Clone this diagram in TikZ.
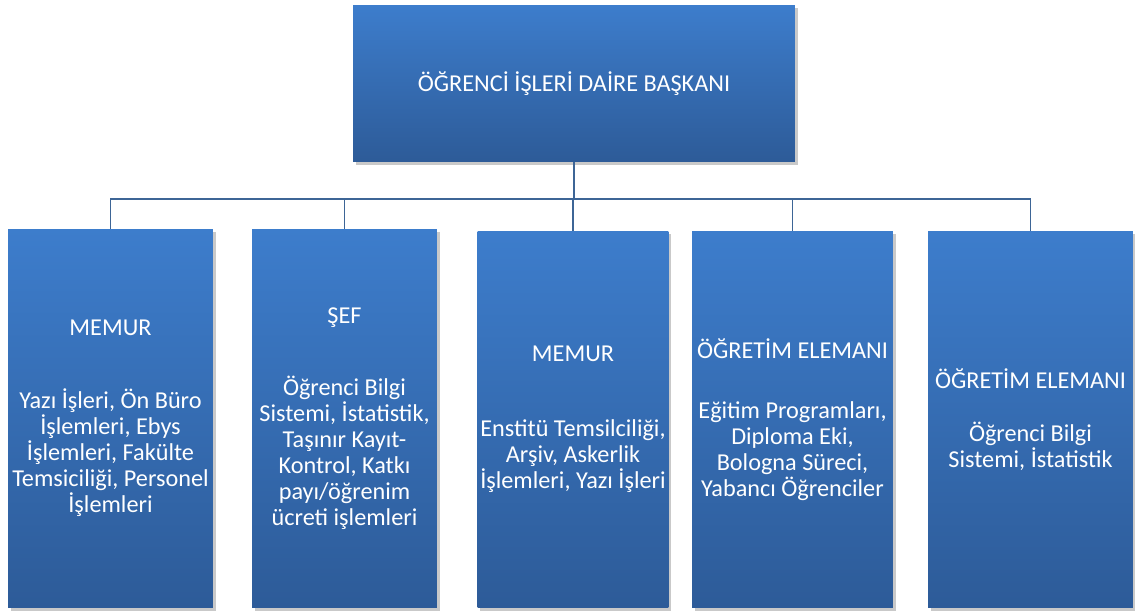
\documentclass[tikz,border=0pt]{standalone}
\usepackage{fontspec}
\setmainfont{Carlito}
\usetikzlibrary{shadows}

\definecolor{boxtop}{RGB}{61,125,204}
\definecolor{boxbottom}{RGB}{45,91,152}
\definecolor{linkblue}{RGB}{61,101,150}

\tikzset{
  office/.style={rectangle, inner sep=0pt, text=white, align=center,
    top color=boxtop, bottom color=boxbottom, draw=none,
    font=\fontsize{13.8}{14.8}\selectfont,
    drop shadow={shadow xshift=1.6pt, shadow yshift=-1.6pt, opacity=.3, fill=black!70}},
  link/.style={draw=linkblue, line width=0.85pt}
}

\begin{document}
\begin{tikzpicture}[x=0.02cm, y=-0.02cm]
    \useasboundingbox (0,0) rectangle (1135,610);
    %% Draw the head
    \node[office, minimum width=8.84cm, minimum height=3.14cm] (head) at (574,83.5) {ÖĞRENCİ İŞLERİ DAİRE BAŞKANI};
    %% Draw the units
    \node[office, minimum width=4.1cm, minimum height=7.58cm] (memurA) at (110.5,418.5)
      {MEMUR\\[27pt]Yazı İşleri, Ön Büro\\İşlemleri, Ebys\\İşlemleri, Fakülte\\Temsiciliği, Personel\\İşlemleri};
    \node[office, minimum width=3.7cm, minimum height=7.58cm] (sef) at (344.5,418.5)
      {ŞEF\\[26pt]Öğrenci Bilgi\\Sistemi, İstatistik,\\Taşınır Kayıt-\\Kontrol, Katkı\\payı/öğrenim\\ücreti işlemleri};
    \node[office, minimum width=3.82cm, minimum height=7.54cm] (memurB) at (573,419.5)
      {MEMUR\\[28pt]Enstitü Temsilciliği,\\Arşiv, Askerlik\\İşlemleri, Yazı İşleri};
    \node[office, minimum width=4.02cm, minimum height=7.54cm] (ogretimA) at (792.5,419.5)
      {ÖĞRETİM ELEMANI\\[19pt]Eğitim Programları,\\Diploma Eki,\\Bologna Süreci,\\Yabancı Öğrenciler};
    \node[office, minimum width=4.1cm, minimum height=7.54cm] (ogretimB) at (1030.5,419.5)
      {ÖĞRETİM ELEMANI\\[15pt]Öğrenci Bilgi\\Sistemi, İstatistik};
    %% Draw the links
    \coordinate (bus) at (574,199);
    \draw[link] (head.south) -- (head.south |- bus);
    \draw[link] (memurA.north) -- (memurA.north |- bus) -| (ogretimB.north);
    \foreach \unit in {sef,memurB,ogretimA}
      \draw[link] (\unit.north) -- (\unit.north |- bus);
\end{tikzpicture}
\end{document}
